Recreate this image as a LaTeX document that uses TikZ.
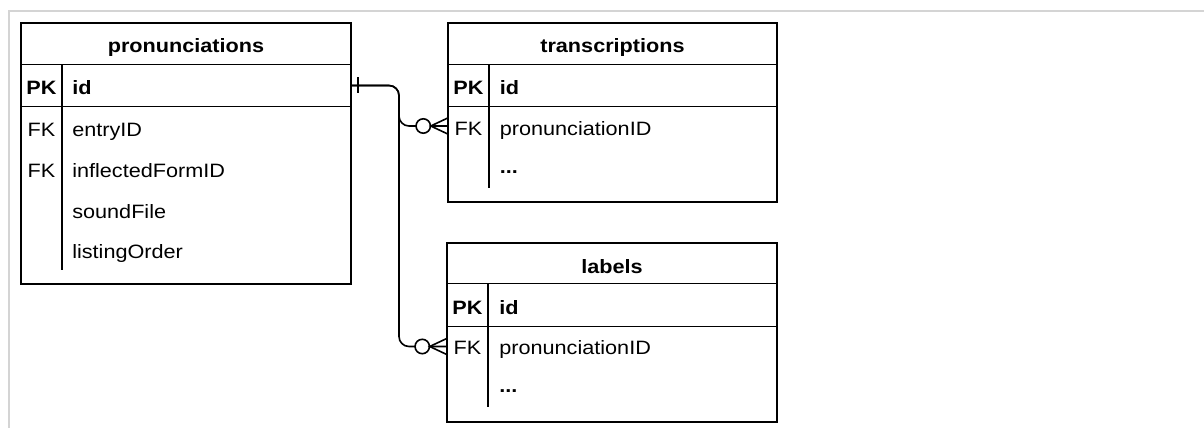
\documentclass[tikz,border=0pt]{standalone}
\usepackage{fontspec}
\setmainfont{Liberation Sans}
\usetikzlibrary{fit,calc}
\newcommand{\hs}[1]{\scalebox{1.12}[1]{#1}}
\definecolor{framec}{RGB}{212,212,212}
\begin{document}
\begin{tikzpicture}[x=0.75pt,y=-0.75pt,
  tbl/.style={draw, line width=1pt, inner sep=0pt},
  rowbox/.style={inner sep=0pt},
  sepline/.style={line width=1pt},
  ttl/.style={font=\bfseries\fontsize{14.5pt}{16pt}\selectfont, anchor=base, inner sep=0pt},
  keyb/.style={font=\bfseries\fontsize{14.5pt}{16pt}\selectfont, anchor=base, inner sep=0pt},
  keyr/.style={font=\fontsize{14.5pt}{16pt}\selectfont, anchor=base, inner sep=0pt},
  fldb/.style={font=\bfseries\fontsize{14.5pt}{16pt}\selectfont, anchor=base west, inner sep=0pt},
  fldr/.style={font=\fontsize{14.5pt}{16pt}\selectfont, anchor=base west, inner sep=0pt},
  conn/.style={line width=1.2pt, rounded corners=7.5pt},
  endmark/.style={line width=1.2pt}
]
\useasboundingbox (0,0) rectangle (1204,428);
% outer frame
\draw[framec, line width=1.5pt] (8.5,428) -- (8.5,11) -- (1204,11);

% ---------- pronunciations ----------
\coordinate (p1) at (21,23); \coordinate (p2) at (351,284);
\node[tbl, fit=(p1)(p2)] (pron) {};
\coordinate (pk1) at (21,65); \coordinate (pk2) at (351,106);
\node[rowbox, fit=(pk1)(pk2)] (pronPK) {};
\draw[sepline] (pronPK.north west) -- (pronPK.north east);
\draw[sepline] (pronPK.south west) -- (pronPK.south east);
\draw[sepline] (62,65) -- (62,270);
\node[ttl] (pronT) at (186,53) {\hs{pronunciations}};
\node[keyb] (pronK1) at (41.5,95) {\hs{PK}};
\node[fldb] (pronF1) at (72,95) {\hs{id}};
\node[keyr] (pronK2) at (41.5,137) {\hs{FK}};
\node[fldr] (pronF2) at (72,137) {\hs{entryID}};
\node[keyr] (pronK3) at (41.5,177.5) {\hs{FK}};
\node[fldr] (pronF3) at (72,177.5) {\hs{inflectedFormID}};
\node[fldr] (pronF4) at (72,218) {\hs{soundFile}};
\node[fldr] (pronF5) at (72,258) {\hs{listingOrder}};

% ---------- transcriptions ----------
\coordinate (t1) at (448,23); \coordinate (t2) at (777,202);
\node[tbl, fit=(t1)(t2)] (trans) {};
\coordinate (tk1) at (448,65); \coordinate (tk2) at (777,106);
\node[rowbox, fit=(tk1)(tk2)] (transPK) {};
\coordinate (tf1) at (448,106); \coordinate (tf2) at (777,146);
\node[rowbox, fit=(tf1)(tf2)] (transFK) {};
\draw[sepline] (transPK.north west) -- (transPK.north east);
\draw[sepline] (transPK.south west) -- (transPK.south east);
\draw[sepline] (489,65) -- (489,188);
\node[ttl] (transT) at (612.5,52.5) {\hs{transcriptions}};
\node[keyb] (transK1) at (468.5,94.5) {\hs{PK}};
\node[fldb] (transF1) at (499.5,94.5) {\hs{id}};
\node[keyr] (transK2) at (468.5,135.7) {\hs{FK}};
\node[fldr] (transF2) at (499.5,135.7) {\hs{pronunciationID}};
\node[fldb] (transF3) at (499.5,173) {\hs{...}};

% ---------- labels ----------
\coordinate (l1) at (447,243); \coordinate (l2) at (777,422);
\node[tbl, fit=(l1)(l2)] (lab) {};
\coordinate (lk1) at (447,284); \coordinate (lk2) at (777,326);
\node[rowbox, fit=(lk1)(lk2)] (labPK) {};
\coordinate (lf1) at (447,326); \coordinate (lf2) at (777,367);
\node[rowbox, fit=(lf1)(lf2)] (labFK) {};
\draw[sepline] (labPK.north west) -- (labPK.north east);
\draw[sepline] (labPK.south west) -- (labPK.south east);
\draw[sepline] (488,284) -- (488,407);
\node[ttl] (labT) at (612,273) {\hs{labels}};
\node[keyb] (labK1) at (467.5,314) {\hs{PK}};
\node[fldb] (labF1) at (499,314) {\hs{id}};
\node[keyr] (labK2) at (467.5,354.5) {\hs{FK}};
\node[fldr] (labF2) at (499,354.5) {\hs{pronunciationID}};
\node[fldb] (labF3) at (499,392) {\hs{...}};

% ---------- connectors ----------
\coordinate (bus) at (399,0);
\draw[conn] (pronPK.east) -- (pronPK.east -| bus) |- (transFK.west);
\draw[conn] (pronPK.east) -- (pronPK.east -| bus) |- (labFK.west);
% one mark
\draw[endmark] ($(pronPK.east)+(7,-8)$) -- ($(pronPK.east)+(7,8)$);
% zero-or-many at transcriptions
\draw[endmark, fill=white] ($(transFK.west)+(-24.5,0)$) circle (7.2);
\draw[endmark] ($(transFK.west)+(0,-8)$) -- ($(transFK.west)+(-17,0)$) -- ($(transFK.west)+(0,8)$);
% zero-or-many at labels
\draw[endmark, fill=white] ($(labFK.west)+(-24.5,0)$) circle (7.2);
\draw[endmark] ($(labFK.west)+(0,-8)$) -- ($(labFK.west)+(-17,0)$) -- ($(labFK.west)+(0,8)$);
\end{tikzpicture}
\end{document}
